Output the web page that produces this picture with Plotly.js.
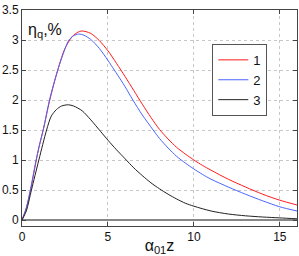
<!DOCTYPE html>
<html>
<head>
<meta charset="utf-8">
<script src="https://cdn.plot.ly/plotly-3.0.1.min.js"></script>
<style>html,body{margin:0;padding:0;background:#fff;}#chart{width:299px;height:256px;}</style>
</head>
<body>
<div id="chart"></div>
<script>
// Curve 1 (red)
const x1 = [0, 0.25, 0.5, 0.8, 1.0, 1.25, 1.6, 2.0, 2.5, 3.0, 3.45, 4.0, 4.5, 5.0, 5.5, 6.0, 6.5, 7.0, 7.5, 8.0, 8.5, 9.0, 9.5, 10, 10.5, 11, 12, 13, 14, 15, 16];
const y1 = [0, 0.2, 0.5, 0.95, 1.23, 1.52, 1.98, 2.42, 2.86, 3.08, 3.15, 3.11, 2.99, 2.82, 2.61, 2.39, 2.16, 1.93, 1.71, 1.51, 1.35, 1.21, 1.1, 1.0, 0.91, 0.83, 0.68, 0.55, 0.43, 0.33, 0.25];
// Curve 2 (blue)
const x2 = [0, 0.25, 0.5, 0.8, 1.0, 1.25, 1.6, 2.08, 2.5, 2.73, 3.0, 3.3, 3.6, 4.0, 4.5, 5.0, 5.37, 5.76, 6.0, 6.45, 7.0, 7.63, 8.0, 8.5, 9.0, 9.5, 10, 10.5, 11, 12, 13, 14, 15, 16];
const y2 = [0, 0.2, 0.52, 0.97, 1.23, 1.52, 2.0, 2.5, 2.85, 3.0, 3.07, 3.1, 3.08, 3.01, 2.86, 2.66, 2.5, 2.33, 2.22, 2.0, 1.75, 1.5, 1.36, 1.2, 1.06, 0.95, 0.85, 0.76, 0.68, 0.55, 0.43, 0.32, 0.22, 0.15];
// Curve 3 (black)
const x3 = [0, 0.25, 0.55, 0.98, 1.43, 1.7, 2.0, 2.3, 2.7, 3.0, 3.5, 4.0, 4.59, 5.0, 5.5, 6.0, 6.5, 7.0, 7.5, 8.0, 8.5, 9.0, 9.5, 10, 11, 12, 13, 14, 15, 16];
const y3 = [0, 0.15, 0.5, 1.0, 1.5, 1.73, 1.84, 1.9, 1.92, 1.9, 1.82, 1.67, 1.47, 1.33, 1.17, 1.02, 0.87, 0.74, 0.62, 0.52, 0.43, 0.35, 0.28, 0.23, 0.15, 0.1, 0.07, 0.05, 0.035, 0.02];

const names = ['1', '2', '3'];
const xTicks = [0, 5, 10, 15];
const yTicks = [0, 0.5, 1, 1.5, 2, 2.5, 3, 3.5];

const mk = (x, y, name, color) => ({
  x: x, y: y, name: name, type: 'scatter', mode: 'lines',
  line: {color: color, width: 1, shape: 'spline', smoothing: 0.8}
});

const data = [
  mk(x1, y1, names[0], '#ff1a1a'),
  mk(x2, y2, names[1], '#4a64ff'),
  mk(x3, y3, names[2], '#222222')
];

const axisCommon = {
  showline: true, mirror: 'ticks', linecolor: '#444', linewidth: 1,
  ticks: 'inside', ticklen: 4, tickcolor: '#444',
  showgrid: true, gridcolor: '#c8c8c8', griddash: 'dot', gridwidth: 1,
  tickfont: {family: 'Liberation Sans, Arial, sans-serif', size: 12, color: '#111'}
};

const layout = {
  width: 299, height: 256,
  margin: {l: 22, r: 2, t: 10, b: 30},
  paper_bgcolor: '#fff', plot_bgcolor: '#fff',
  showlegend: true,
  xaxis: Object.assign({}, axisCommon, {
    range: [0, 16], tickvals: xTicks, ticktext: xTicks.map(String),
    zeroline: false,
    title: {text: 'α<sub>01</sub>z', standoff: 2,
      font: {family: 'Liberation Sans, Arial, sans-serif', size: 16, color: '#111'}}
  }),
  yaxis: Object.assign({}, axisCommon, {
    range: [-0.1, 3.5], tickvals: yTicks, ticktext: yTicks.map(String),
    zeroline: true, zerolinecolor: '#888', zerolinewidth: 1.2
  }),
  legend: {
    x: 0.692, y: 0.843, xanchor: 'left', yanchor: 'top',
    bgcolor: '#fff', bordercolor: '#555', borderwidth: 1,
    font: {family: 'Liberation Sans, Arial, sans-serif', size: 13, color: '#111'},
    tracegroupgap: 0, itemwidth: 30
  },
  annotations: [{
    xref: 'paper', yref: 'paper', x: 0.015, y: 0.96, xanchor: 'left', yanchor: 'top',
    text: 'η<sub>q</sub>,%', showarrow: false,
    font: {family: 'Liberation Sans, Arial, sans-serif', size: 16, color: '#111'}
  }]
};

Plotly.newPlot('chart', data, layout, {displayModeBar: false, staticPlot: true});
</script>
</body>
</html>
